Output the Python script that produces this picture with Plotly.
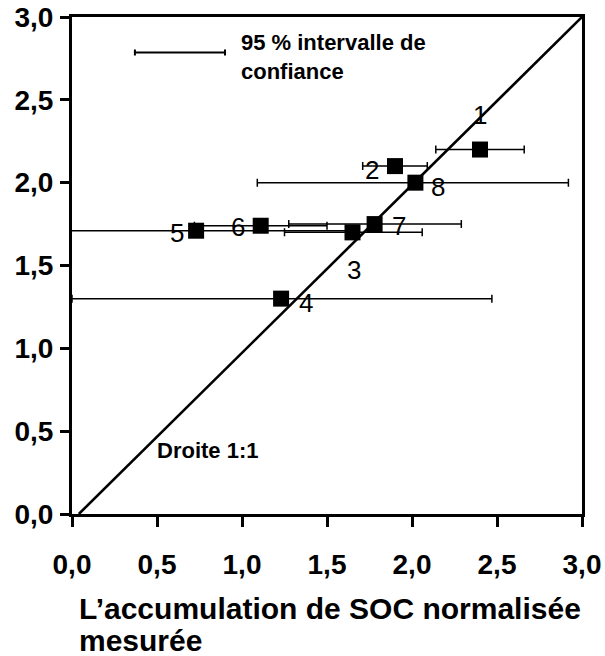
import plotly.graph_objects as go

# Sites (labels), normalised SOC accumulation: measured (x) vs predicted (y)
site_labels = ["1", "2", "3", "4", "5", "6", "7", "8"]
measured = [2.40, 1.90, 1.65, 1.23, 0.73, 1.11, 1.78, 2.02]
predicted = [2.20, 2.10, 1.70, 1.30, 1.71, 1.74, 1.75, 2.00]
# 95 % confidence interval of the measured value
ci_low = [2.14, 1.71, 1.25, 0.00, -0.18, 0.72, 1.275, 1.09]
ci_high = [2.66, 2.09, 2.06, 2.47, 1.64, 1.50, 2.29, 2.92]

# 1:1 reference line
line_x = [0.04, 3.0]
line_y = [0.0, 3.0]

# sample interval shown next to its caption
legend_ci_x = [0.37, 0.90]
legend_ci_y = 2.785

tick_vals = [0.0, 0.5, 1.0, 1.5, 2.0, 2.5, 3.0]

# label offsets around each square (pixels)
label_dx = [0, -23, 1, 25, -19, -23, 24, 23]
label_dy = [35, -4, -38, -4, -2, -1, -2, -4]

FONT = "Liberation Sans, Arial, sans-serif"

fig = go.Figure()

fig.add_trace(go.Scatter(
    x=line_x, y=line_y, mode="lines",
    line=dict(color="black", width=2.6),
    hoverinfo="skip", showlegend=False,
))

err_plus = [h - m for h, m in zip(ci_high, measured)]
err_minus = [m - l for m, l in zip(measured, ci_low)]

fig.add_trace(go.Scatter(
    x=measured, y=predicted, mode="markers",
    marker=dict(symbol="square", size=16, color="black"),
    error_x=dict(type="data", symmetric=False, array=err_plus,
                 arrayminus=err_minus, color="black", thickness=1.5, width=4),
    showlegend=False,
))

# sample interval
ci_mid = (legend_ci_x[0] + legend_ci_x[1]) / 2
ci_half = (legend_ci_x[1] - legend_ci_x[0]) / 2
fig.add_trace(go.Scatter(
    x=[ci_mid], y=[legend_ci_y], mode="markers",
    marker=dict(size=0.1, color="black"),
    error_x=dict(type="constant", value=ci_half, color="black", thickness=2, width=3),
    hoverinfo="skip", showlegend=False,
))

annotations = []
for lab, x, y, dx, dy in zip(site_labels, measured, predicted, label_dx, label_dy):
    annotations.append(dict(
        x=x, y=y, xref="x", yref="y", text=lab, showarrow=False,
        xshift=dx, yshift=dy,
        font=dict(family=FONT, size=26, color="black"),
    ))

bold = dict(family=FONT, color="black", weight="bold")

annotations.append(dict(
    x=0.985, y=2.757, xref="x", yref="y", xanchor="left", yanchor="middle",
    text="95 % intervalle de<br>confiance", align="left", showarrow=False,
    font=dict(size=22, **bold),
))
annotations.append(dict(
    x=0.486, y=0.386, xref="x", yref="y", xanchor="left", yanchor="middle",
    text="Droite 1:1", showarrow=False,
    font=dict(size=22, **bold),
))
# x-axis title, two left-aligned lines
annotations.append(dict(
    x=0.01, y=-0.191, xref="paper", yref="paper", xanchor="left", yanchor="middle",
    text="L\u2019accumulation de SOC normalisée", showarrow=False,
    font=dict(size=30, **bold),
))
annotations.append(dict(
    x=0.01, y=-0.254, xref="paper", yref="paper", xanchor="left", yanchor="middle",
    text="mesurée", showarrow=False,
    font=dict(size=30, **bold),
))

axis_common = dict(
    range=[0, 3], tickvals=tick_vals, tickformat=".1f",
    showgrid=False, zeroline=False, automargin=False,
    showline=True, linecolor="black", linewidth=3, mirror=True,
    ticks="outside", tickcolor="black", tickwidth=2.5,
    tickfont=dict(size=28, **bold),
)

fig.update_layout(
    width=605, height=656,
    margin=dict(l=72, r=23, t=17, b=142),
    paper_bgcolor="white", plot_bgcolor="white",
    separators=", ",
    xaxis=dict(**axis_common, ticklen=10, ticklabelstandoff=13),
    yaxis=dict(**axis_common, ticklen=9, ticklabelstandoff=1),
    annotations=annotations,
    showlegend=False,
)

fig.write_html("out.html")
